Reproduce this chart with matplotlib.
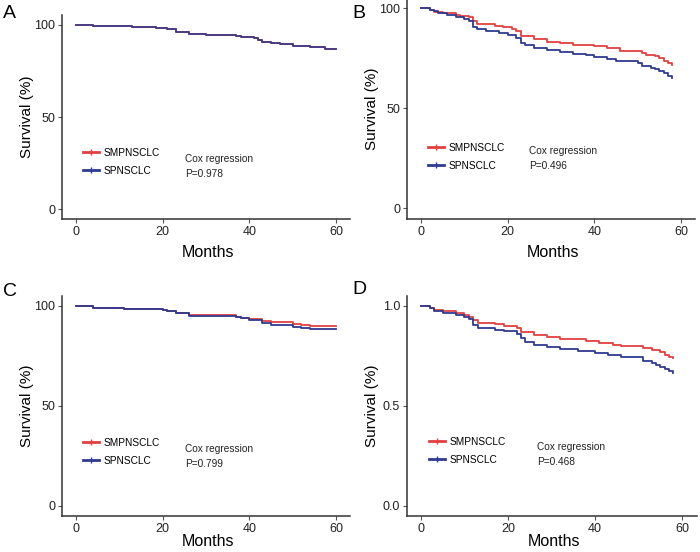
import matplotlib
matplotlib.use("Agg")
import matplotlib.pyplot as plt
from matplotlib.lines import Line2D

plt.rcParams['font.family'] = ['Liberation Sans', 'DejaVu Sans']

#### DATA ####
# panel A - both groups overlap completely
a_time = [0, 4, 5, 13, 18.5, 21, 23, 26, 30, 37, 38, 41, 42, 43, 45, 47, 50, 54, 57.5, 60]
a_smp = [100, 99.6, 99.3, 98.9, 98.5, 97.8, 96.2, 95.3, 94.7, 94.2, 93.5, 92.9,
         92.0, 90.8, 90.2, 89.7, 88.8, 88.0, 87.1, 87.1]
a_sp = [100, 99.6, 99.3, 98.9, 98.5, 97.8, 96.2, 95.3, 94.7, 94.2, 93.5, 92.9,
        92.0, 90.8, 90.2, 89.7, 88.8, 88.0, 87.1, 87.1]
a_p = "P=0.978"

# panel B
b_smp_time = [0, 2, 3, 5, 8, 9, 11, 12, 13, 17, 19, 21, 22, 23, 26, 29, 32, 35,
              40, 43, 46, 51, 52, 54, 55, 56, 57, 58]
b_smp = [100, 99, 98, 97.5, 96.5, 96, 95.5, 93.5, 92, 91, 90.5, 89.5, 88.5, 86.3,
         84.5, 83.3, 82.5, 81.8, 81, 80, 78.8, 77.5, 76.5, 76, 75, 73.5, 72.5, 71.8]
b_sp_time = [0, 2, 3, 4, 6, 8, 10, 11, 12, 13, 15, 18, 20, 22, 23, 24, 26, 29, 32,
             35, 38, 40, 43, 45, 50, 51, 53, 54, 55, 56, 57, 58]
b_sp = [100, 99.3, 98.5, 97.5, 96.5, 95.5, 94.5, 93.8, 90.5, 89.5, 88.5, 87.8, 86.5,
        85, 82.8, 81.5, 80.3, 79, 78, 77, 76.5, 75.6, 74.5, 73.5, 72.8, 71.2, 70.3,
        69.5, 68.5, 67.5, 66.3, 65.3]
b_p = "P=0.496"

# panel C
c_smp_time = [0, 4, 11, 20, 21, 23, 26, 37, 38, 40, 43, 45, 50, 52, 54, 60]
c_smp = [100, 99.0, 98.5, 97.8, 97.3, 96.3, 95.3, 94.6, 94.2, 93.7, 92.5, 91.8,
         91.0, 90.5, 89.8, 89.8]
c_sp_time = [0, 4, 11, 20, 21, 23, 26, 37, 38, 40, 43, 45, 50, 52, 54, 60]
c_sp = [100, 99.0, 98.5, 97.8, 97.3, 96.3, 95.0, 94.5, 93.8, 93.0, 91.3, 90.7,
        89.7, 89.2, 88.5, 88.3]
c_p = "P=0.799"

# panel D
d_smp_time = [0, 2, 3, 5, 8, 10, 11, 12, 13, 17, 19, 22, 23, 26, 29, 32, 38, 41,
              44, 46, 51, 53, 55, 56, 57, 58]
d_smp = [1.0, 0.99, 0.98, 0.975, 0.965, 0.955, 0.945, 0.93, 0.915, 0.908, 0.90,
         0.89, 0.87, 0.855, 0.845, 0.835, 0.825, 0.815, 0.807, 0.80, 0.79, 0.78,
         0.77, 0.755, 0.745, 0.742]
d_sp_time = [0, 2, 3, 5, 8, 10, 11, 12, 13, 17, 19, 22, 23, 24, 26, 29, 32, 36,
             40, 43, 46, 51, 53, 54, 55, 56, 57, 58]
d_sp = [1.0, 0.99, 0.975, 0.965, 0.955, 0.945, 0.935, 0.905, 0.89, 0.88, 0.875,
        0.86, 0.84, 0.82, 0.807, 0.795, 0.785, 0.775, 0.763, 0.755, 0.745, 0.725,
        0.715, 0.705, 0.695, 0.685, 0.675, 0.667]
d_p = "P=0.468"

groups = ["SMPNSCLC", "SPNSCLC"]
red = "#E2403F"
blue = "#2E3A92"

#### LAYOUT (pixel boxes: left, top, right, bottom) ####
W, H = 700, 552
fig = plt.figure(figsize=(7, 5.52), dpi=100)


def px_axes(l, t, r, b):
    return fig.add_axes([l / W, 1 - b / H, (r - l) / W, (b - t) / H])


def draw_panel(box, letter, smp_t, smp_y, sp_t, sp_y, ylim, yticks, yfmt,
               xlim, pval, letter_xy, ylab_x, xlab_y, leg_xy, cox_xy, blue_alpha=1.0):
    ax = px_axes(*box)
    ax.step(smp_t, smp_y, where='post', color=red, lw=1.3)
    ax.step(sp_t, sp_y, where='post', color=blue, lw=1.3, alpha=blue_alpha)
    ax.set_xlim(*xlim)
    ax.set_ylim(*ylim)
    ax.set_xticks([0, 20, 40, 60])
    ax.set_yticks(yticks)
    ax.set_yticklabels([yfmt.format(v) for v in yticks])
    for s in ['top', 'right']:
        ax.spines[s].set_visible(False)
    for s in ['left', 'bottom']:
        ax.spines[s].set_color('#333333')
        ax.spines[s].set_linewidth(1.1)
    ax.tick_params(length=3, width=0.8, color='#555555', labelsize=9,
                   labelcolor='#222222', pad=2)

    fig.text(letter_xy[0] / W, 1 - letter_xy[1] / H, letter, fontsize=14,
             ha='left', va='center')
    fig.text(ylab_x / W, 1 - (box[1] + box[3]) / 2 / H, "Survival (%)",
             rotation=90, fontsize=11, ha='center', va='center')
    fig.text(((box[0] + box[2]) / 2 + 2) / W, 1 - xlab_y / H, "Months",
             fontsize=11.5, ha='center', va='center')

    handles = [Line2D([], [], color=red, lw=2, marker='|', markersize=4),
               Line2D([], [], color=blue, lw=2, marker='|', markersize=4)]
    ax.legend(handles, groups, loc='upper left', frameon=False, fontsize=7.3,
              numpoints=1, handlelength=1.6, handletextpad=0.4, labelspacing=0.75,
              borderaxespad=0, borderpad=0,
              bbox_to_anchor=(leg_xy[0] / W, 1 - leg_xy[1] / H),
              bbox_transform=fig.transFigure)
    fig.text(cox_xy[0] / W, 1 - cox_xy[1] / H, "Cox regression", fontsize=7.3,
             ha='left', va='center', color='#222222')
    fig.text(cox_xy[0] / W, 1 - (cox_xy[1] + 15) / H, pval, fontsize=7.3,
             ha='left', va='center', color='#222222')
    return ax


pct_ticks = [0, 50, 100]
draw_panel((62, 15, 350, 219), "A", a_time, a_smp, a_time, a_sp,
           (-5.4, 105.4), pct_ticks, "{:d}", (-3.23, 63.2), a_p,
           (3, 14), 27, 253, (83, 148), (185, 159), blue_alpha=0.9)
draw_panel((407, -2, 695, 219), "B", b_smp_time, b_smp, b_sp_time, b_sp,
           (-5.5, 105.2), pct_ticks, "{:d}", (-3.23, 63.2), b_p,
           (352, 14), 372, 253, (428, 143), (529, 151))
draw_panel((62, 296, 350, 516), "C", c_smp_time, c_smp, c_sp_time, c_sp,
           (-5, 105), pct_ticks, "{:d}", (-3.23, 63.2), c_p,
           (3, 291), 27, 542, (83, 438), (185, 449))
draw_panel((407, 296, 697, 516), "D", d_smp_time, d_smp, d_sp_time, d_sp,
           (-0.05, 1.05), [0.0, 0.5, 1.0], "{:.1f}", (-3.2, 63.4), d_p,
           (352, 290), 372, 542, (429, 437), (537, 447))

fig.savefig("out.png", dpi=100)
